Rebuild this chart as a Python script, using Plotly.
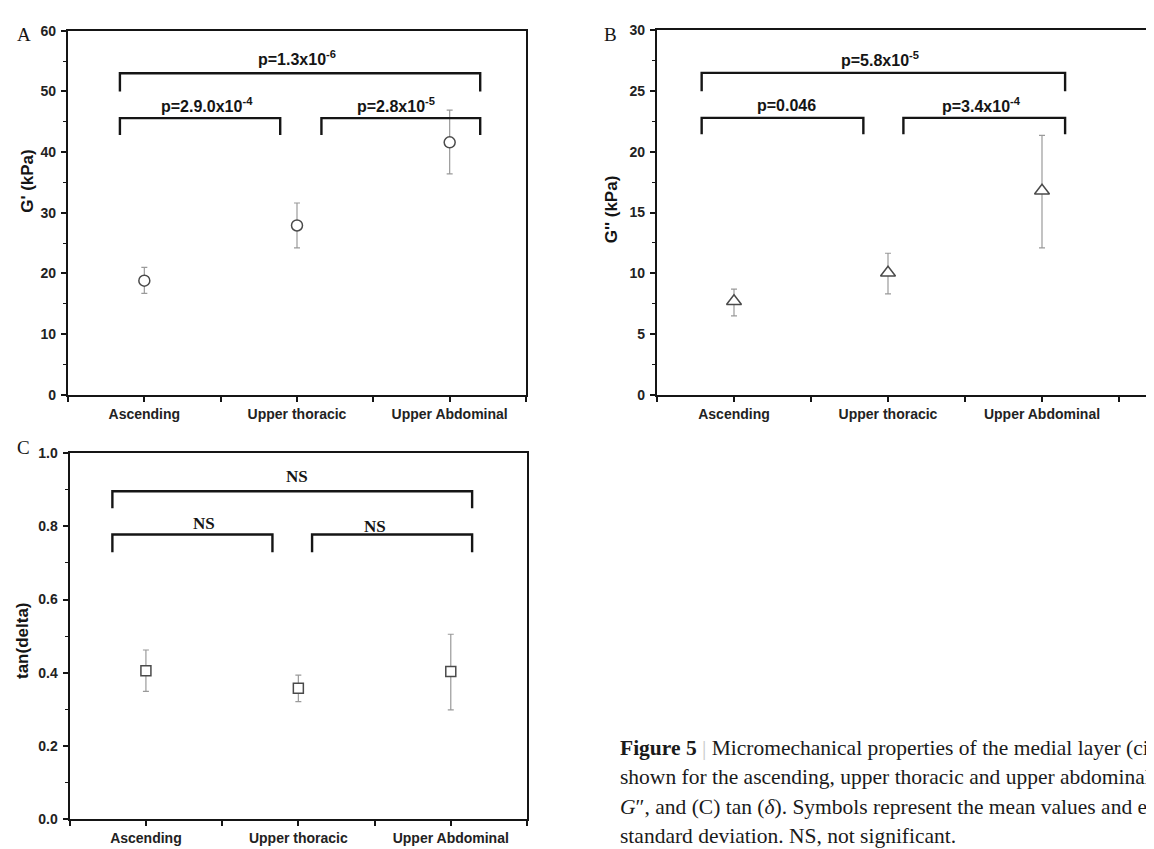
import plotly.graph_objects as go

W, H = 1154, 849

# ---------------- data ----------------
categories = ["Ascending", "Upper thoracic", "Upper Abdominal"]
cat_pos = [1, 2, 3]

gp_mean = [18.8, 27.9, 41.6]
gp_upper = [21.0, 31.6, 46.9]
gp_lower = [16.7, 24.2, 36.4]

gpp_mean = [7.7, 10.05, 16.8]
gpp_upper = [8.7, 11.65, 21.35]
gpp_lower = [6.5, 8.3, 12.1]

tan_mean = [0.405, 0.357, 0.403]
tan_upper = [0.462, 0.393, 0.505]
tan_lower = [0.349, 0.321, 0.298]

# brackets: (x_left, x_right, y_bar, y_leg_end)
brackets_A = [(0.84, 3.20, 53.0, 50.0), (0.84, 1.89, 45.6, 42.8), (2.16, 3.20, 45.6, 42.8)]
labels_A = [("p=1.3x10<sup>-6</sup>", 2.0, 55.5), ("p=2.9.0x10<sup>-4</sup>", 1.41, 47.8), ("p=2.8x10<sup>-5</sup>", 2.65, 47.8)]

brackets_B = [(0.79, 3.15, 26.5, 25.0), (0.79, 1.84, 22.8, 21.45), (2.10, 3.15, 22.8, 21.45)]
labels_B = [("p=5.8x10<sup>-5</sup>", 1.95, 27.65), ("p=0.046", 1.34, 23.85), ("p=3.4x10<sup>-4</sup>", 2.61, 23.85)]

brackets_C = [(0.78, 3.14, 0.896, 0.85), (0.78, 1.83, 0.778, 0.729), (2.09, 3.14, 0.778, 0.729)]
labels_C = [("NS", 1.99, 0.9375), ("NS", 1.38, 0.809), ("NS", 2.50, 0.799)]

caption_lines = [
    "<b>Figure 5</b> <span style='color:#c8c8c8'>|</span> Micromechanical properties of the medial layer (circumferential direction) are",
    "shown for the ascending, upper thoracic and upper abdominal aorta: (A) <i>G</i>′, (B)",
    "<i>G</i>″, and (C) tan (<i>δ</i>). Symbols represent the mean values and error bars the",
    "standard deviation. NS, not significant.",
]

# ---------------- style ----------------
SANS = "Liberation Sans, Arial, Helvetica, sans-serif"
SERIF = "Liberation Serif, Times New Roman, serif"
MARKER_LINE = "#4a4a4a"
ERR_COLOR = "#9a9a9a"
INK = "#151515"

fig = go.Figure()


def px_x(p):
    return p / W


def px_y(p):
    return 1 - p / H


panels = [
    ("x", "y", gp_mean, gp_upper, gp_lower, "circle", 11, brackets_A, labels_A, "sans"),
    ("x2", "y2", gpp_mean, gpp_upper, gpp_lower, "triangle-up", 13, brackets_B, labels_B, "sans"),
    ("x3", "y3", tan_mean, tan_upper, tan_lower, "square", 10, brackets_C, labels_C, "serif"),
]

for xa, ya, mean, up, lo, sym, msize, brs, labs, lf in panels:
    plus = [u - m for u, m in zip(up, mean)]
    minus = [m - l for m, l in zip(mean, lo)]
    fig.add_trace(go.Scatter(
        x=cat_pos, y=mean, mode="markers", xaxis=xa, yaxis=ya,
        marker=dict(symbol=sym, size=msize, color="white",
                    line=dict(color=MARKER_LINE, width=1.5)),
        error_y=dict(type="data", symmetric=False, array=plus, arrayminus=minus,
                     color=ERR_COLOR, thickness=1.2, width=3),
        showlegend=False, hoverinfo="skip",
    ))
    for (x0, x1, yb, yl) in brs:
        fig.add_trace(go.Scatter(
            x=[x0, x0, x1, x1], y=[yl, yb, yb, yl], mode="lines", xaxis=xa, yaxis=ya,
            line=dict(color=INK, width=2.4), showlegend=False, hoverinfo="skip",
        ))
    for (txt, lx, ly) in labs:
        if lf == "sans":
            font = dict(family=SANS, size=16, color=INK)
        else:
            font = dict(family=SERIF, size=17, color=INK)
        fig.add_annotation(x=lx, y=ly, xref=xa, yref=ya, text="<b>" + txt + "</b>",
                           showarrow=False, xanchor="center", yanchor="middle", font=font)

tickfont = dict(family=SANS, size=14, color="#222222")


def xaxis_cfg(domain, rng, mirror=True):
    return dict(
        domain=domain, range=rng, tickmode="array", tickvals=cat_pos,
        ticktext=["<b>%s</b>" % c for c in categories],
        showline=True, linecolor=INK, linewidth=2.2, mirror=mirror,
        ticks="outside", ticklen=5, tickwidth=1.5, tickcolor=INK,
        minor=dict(tickmode="array", tickvals=[0.5, 1.5, 2.5, 3.5], ticks="outside",
                   ticklen=5, tickwidth=1.5, tickcolor=INK, showgrid=False),
        showgrid=False, zeroline=False, tickfont=tickfont, fixedrange=True,
    )


def yaxis_cfg(domain, rng, dtick, minor_dtick, fmt, mirror=True):
    return dict(
        domain=domain, range=rng, tickmode="linear", tick0=0, dtick=dtick,
        tickformat=fmt, tickprefix="<b>", ticksuffix="</b>",
        showline=True, linecolor=INK, linewidth=2.2, mirror=mirror,
        ticks="outside", ticklen=5, tickwidth=1.5, tickcolor=INK,
        minor=dict(tick0=0, dtick=minor_dtick, ticks="outside", ticklen=3,
                   tickwidth=1.2, tickcolor=INK, showgrid=False),
        showgrid=False, zeroline=False, tickfont=tickfont, fixedrange=True,
        ticklabelstandoff=2,
    )


yA = [px_y(386), px_y(15)]
yC = [px_y(818.3), px_y(445.7)]

fig.update_layout(
    width=W, height=H,
    margin=dict(l=0, r=0, t=0, b=0),
    paper_bgcolor="white", plot_bgcolor="white",
    showlegend=False,
    xaxis=dict(xaxis_cfg([px_x(60), px_x(518)], [0.5, 3.5]), anchor="y"),
    yaxis=dict(yaxis_cfg(yA, [0, 60], 10, 5, "d"), anchor="x"),
    xaxis2=dict(xaxis_cfg([px_x(649), 1.0], [0.5, 0.5 + (W - 649) / 154.0]), anchor="y2"),
    yaxis2=dict(yaxis_cfg([px_y(386), px_y(14.7)], [0, 30], 5, 2.5, "d", mirror=False), anchor="x2"),
    xaxis3=dict(xaxis_cfg([px_x(61.7), px_x(519)], [0.5, 3.5]), anchor="y3"),
    yaxis3=dict(yaxis_cfg(yC, [0, 1.0], 0.2, 0.1, ".1f"), anchor="x3"),
)

# axis titles
titles = [("<b>G' (kPa)</b>", 20, 168), ("<b>G'' (kPa)</b>", 603, 197), ("<b>tan(delta)</b>", 15, 637)]
for txt, tx, ty in titles:
    fig.add_annotation(x=px_x(tx), y=px_y(ty), xref="paper", yref="paper", text=txt,
                       textangle=-90, showarrow=False, xanchor="center", yanchor="middle",
                       font=dict(family=SANS, size=17, color=INK))

# panel letters
letters = [("A", 7, 19), ("B", 594, 19), ("C", 7, 440)]
for txt, tx, ty in letters:
    fig.add_annotation(x=px_x(tx), y=px_y(ty), xref="paper", yref="paper", text=txt,
                       showarrow=False, xanchor="left", yanchor="middle",
                       font=dict(family=SERIF, size=19, color=INK))

# caption
cap_baselines = [753, 783, 813, 843]
for line, bl in zip(caption_lines, cap_baselines):
    fig.add_annotation(x=px_x(610), y=px_y(bl - 7), xref="paper", yref="paper", text=line,
                       showarrow=False, xanchor="left", yanchor="middle", align="left",
                       font=dict(family=SERIF, size=21.5, color="#1a1a1a"))

fig.write_html("out.html")
